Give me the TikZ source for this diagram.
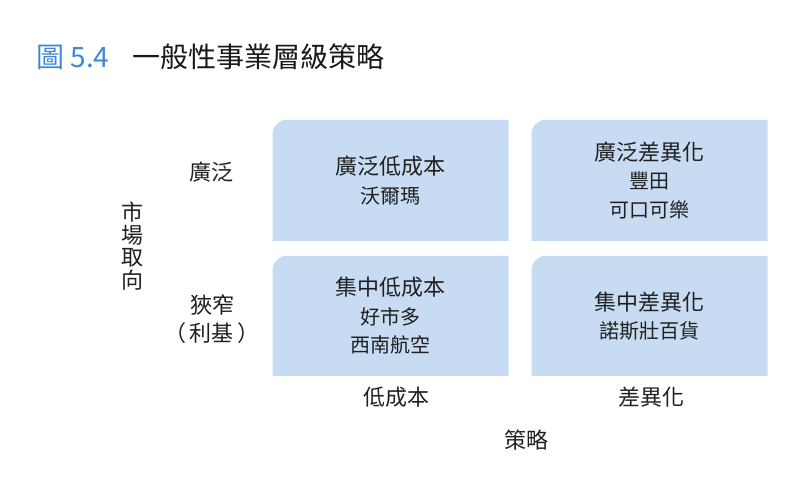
\documentclass[tikz,border=0pt]{standalone}
\usepackage{fontspec}
\setmainfont{Noto Sans CJK TC}
\usepackage{tikz}
\usetikzlibrary{positioning}
\definecolor{figblue}{RGB}{62,136,214}
\definecolor{cellblue}{RGB}{199,219,243}
\definecolor{inkgray}{RGB}{32,32,32}

\begin{document}
\begin{tikzpicture}[
  x=1pt,y=1pt,
  every node/.style={text=inkgray,inner sep=0pt},
  cell/.style={minimum width=236pt,minimum height=121pt,align=center,
    font=\fontsize{20pt}{28.5pt}\selectfont,
    path picture={\fill[cellblue] (path picture bounding box.south west)
      -- ([yshift=-14pt]path picture bounding box.north west)
      arc[start angle=180,end angle=90,radius=14pt]
      -- (path picture bounding box.north east)
      -- (path picture bounding box.south east) -- cycle;}},
  axis/.style={align=center,font=\fontsize{22pt}{28pt}\selectfont},
  head/.style={font=\fontsize{22pt}{28pt}\selectfont}
]
\useasboundingbox (0,0) rectangle (800,492);
% title
\node[anchor=west,text=figblue,font=\fontsize{28pt}{30pt}\selectfont] (figno) at (36,435) {圖 5.4};
\node[anchor=west,text=black!90,font=\fontsize{28pt}{30pt}\selectfont] (title) at (132,435) {一般性事業層級策略};

% the four strategies
\node[cell] (bl) at (390.5,311.5) {{\fontsize{22pt}{28.5pt}\selectfont 廣泛低成本}\\沃爾瑪};
\node[cell] (bd) at (649.5,311.5) {{\fontsize{22pt}{28.5pt}\selectfont 廣泛差異化}\\豐田\\可口可樂};
\node[cell,minimum height=120pt] (nl) at (390.5,176) {{\fontsize{22pt}{28.5pt}\selectfont 集中低成本}\\好市多\\西南航空};
\node[cell,minimum height=120pt] (nd) at (649.5,176) {{\fontsize{22pt}{28.5pt}\selectfont 集中差異化}\\諾斯壯百貨};

% market axis
\node[axis] (broad) at (211,320) {廣泛};
\node[axis] (narrow) at (212,173) {狹窄\\（\hspace{4pt}利基\hspace{4pt}）};
\node[axis,font=\fontsize{22pt}{22.5pt}\selectfont] (market) at (132,246) {市\\場\\取\\向};

% strategy axis
\node[head] (lowcost) at (396,95) {低成本};
\node[head] (diff) at (651,95) {差異化};
\node[head] (strategy) at (526,52) {策略};
\end{tikzpicture}
\end{document}
